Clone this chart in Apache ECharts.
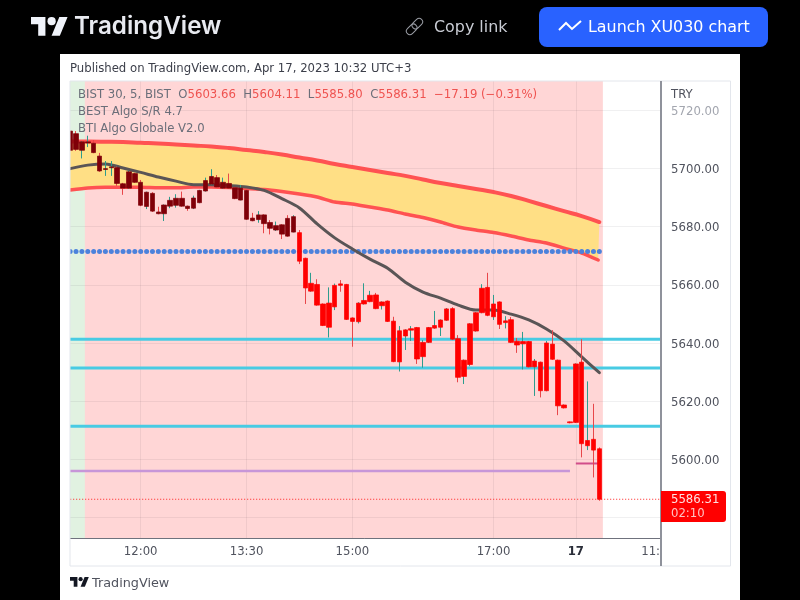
<!DOCTYPE html>
<html>
<head>
<meta charset="utf-8">
<script src="https://cdn.jsdelivr.net/npm/echarts@6/dist/echarts.min.js"></script>
<style>html,body{margin:0;padding:0;background:#000}#chart{width:800px;height:600px}</style>
</head>
<body>
<div id="chart"></div>
<script>
// ---------- Data ----------
const bodyTop = [
5712.8,5711.9,5709.1,5709.1,5708.6,5704.2,5699.9,5700.5,5700.2,5694.7,
5698.8,5698.2,5695.2,5691.8,5691.4,5685.0,5687.4,5689.0,5689.7,5689.7,
5687.0,5689.8,5692.4,5695.8,5697.2,5696.8,5695.2,5694.8,5693.3,5693.2,
5692.4,5682.9,5684.0,5684.0,5681.4,5680.3,5680.6,5682.8,5683.4,5677.9,
5669.1,5660.5,5660.1,5653.4,5653.7,5659.8,5660.3,5660.1,5648.6,5653.7,
5654.6,5656.4,5656.5,5654.1,5654.4,5647.5,5644.2,5644.5,5644.9,5645.3,
5640.2,5645.3,5646.0,5647.9,5651.7,5651.8,5641.5,5634.1,5646.6,5650.4,
5658.8,5659.1,5653.4,5654.1,5647.6,5648.0,5640.6,5640.5,5640.5,5633.8,
5633.4,5640.0,5639.6,5634.1,5618.7,5612.9,5632.8,5633.4,5606.5,5606.9,5603.66];
const bodyBottom = [
5706.2,5706.5,5706.2,5708.7,5705.4,5699.1,5699.6,5700.2,5694.8,5693.2,
5693.2,5695.2,5687.3,5686.9,5685.3,5684.4,5684.4,5687.0,5687.3,5687.0,
5686.2,5686.3,5688.2,5692.2,5694.6,5693.6,5693.2,5693.2,5689.6,5689.1,
5682.5,5682.0,5682.4,5681.0,5679.4,5678.8,5677.4,5676.7,5678.1,5668.1,
5658.9,5657.8,5653.0,5646.0,5645.4,5652.4,5659.8,5648.1,5647.4,5647.3,
5653.4,5654.2,5651.8,5652.8,5647.4,5633.6,5633.5,5642.4,5644.4,5634.5,
5635.3,5640.2,5645.1,5645.4,5647.8,5641.3,5628.2,5628.5,5632.6,5644.1,
5650.4,5649.5,5649.0,5646.4,5647.0,5640.2,5639.3,5639.7,5631.8,5631.8,
5623.6,5623.6,5634.4,5618.4,5617.7,5612.6,5612.7,5605.4,5604.7,5603.2,5586.31];
const wickHigh = [
5713.5,5712.8,5709.3,5711.2,5709.7,5705.3,5702.5,5702.5,5700.6,5695.0,
5699.2,5698.5,5696.0,5692.0,5691.8,5686.8,5687.6,5690.2,5691.1,5692.0,
5687.2,5690.6,5692.6,5696.8,5699.7,5697.7,5696.8,5698.2,5693.5,5694.3,
5692.6,5684.7,5685.3,5684.2,5682.2,5681.7,5680.8,5683.9,5683.9,5678.8,
5669.3,5664.1,5661.9,5653.6,5659.1,5660.4,5661.6,5660.3,5648.8,5654.0,
5660.5,5657.9,5657.2,5654.3,5654.6,5649.0,5645.8,5644.7,5645.8,5645.5,
5641.0,5645.5,5651.0,5648.1,5652.0,5652.3,5642.7,5634.3,5646.8,5650.6,
5660.2,5664.1,5656.5,5654.3,5649.2,5648.9,5641.7,5643.8,5640.7,5634.5,
5633.6,5640.7,5644.4,5634.3,5618.9,5613.0,5633.0,5641.3,5626.8,5619.1,5604.11];
const wickLow = [
5705.6,5706.0,5703.4,5707.3,5705.2,5698.8,5697.4,5697.4,5694.0,5690.9,
5693.0,5695.0,5687.0,5686.0,5685.0,5684.2,5681.9,5686.3,5686.5,5686.8,
5685.4,5686.0,5688.0,5692.0,5694.4,5693.4,5693.0,5693.0,5689.4,5689.0,
5682.3,5681.8,5681.3,5677.7,5677.3,5678.5,5675.7,5676.5,5678.0,5667.1,
5653.4,5657.6,5652.8,5645.8,5641.9,5651.3,5657.6,5647.9,5638.7,5646.7,
5653.2,5654.0,5651.6,5651.5,5647.2,5633.4,5630.2,5637.6,5640.7,5632.8,
5631.5,5640.0,5644.9,5642.4,5647.6,5641.0,5626.5,5625.9,5632.0,5643.9,
5650.2,5649.2,5647.9,5644.8,5645.0,5640.0,5636.6,5630.9,5631.6,5621.8,
5621.3,5623.4,5634.2,5615.2,5617.5,5612.4,5612.5,5600.7,5603.2,5593.8,5585.8];
const barDirection = [
'd','d','u','u','d','d','u','u','d','d','u','d','d','u','d','d','u','u','u','d',
'd','u','u','u','u','d','u','d','d','u','d','d','u','d','d','u','d','d','u','d',
'd','u','d','d','u','u','d','d','d','u','u','u','d','u','d','d','u','u','u','d',
'u','u','u','u','u','d','d','u','u','u','u','d','u','d','u','d','d','u','d','u',
'd','u','d','d','d','d','u','d','u','d','d'];
const darkBarCount = 39;

const lineBars = [0,3,6,9,12,15,18,21,24,27,30,33,36,39,42,45,48,51,54,57,60,63,66,69,72,75,78,81,84,87,90];
const lowerLineBars = [0,3,6,9,12,15,18,21,24,27,30,33,36,39,42,45,48,51,54,57,60,63,66,69,72,75,78,81,84,87,89.8];
const upperLine = [5709.2,5709.2,5709.15,5709.04,5708.77,5708.53,5708.18,5707.84,5707.5,5706.98,5706.3,5705.6,5704.75,5703.7,5702.7,5701.5,5700.45,5699.4,5698.4,5697.4,5696.15,5694.95,5693.9,5692.9,5691.85,5690.5,5688.8,5687.05,5685.3,5683.6,5681.55];
const lowerLine = [5692.55,5693.24,5693.48,5693.48,5693.48,5693.3,5693.3,5693.58,5693.58,5693.4,5693.06,5692.72,5692.03,5691.17,5690.14,5688.42,5687.74,5686.7,5685.67,5684.3,5683.1,5681.55,5679.83,5678.8,5677.94,5676.74,5675.37,5674.33,5672.6,5670.9,5668.5];
const meanLine = [5699.9,5701.1,5701.5,5700.1,5698.6,5697.0,5695.6,5694.4,5694.4,5694.1,5693.6,5692.4,5689.6,5686.4,5680.9,5676.1,5672.3,5668.8,5665.7,5660.9,5657.5,5655.4,5653.0,5651.3,5651.3,5649.9,5647.9,5644.8,5640.7,5635.2,5629.8];

const dotLevel = 5671.4;
const cyanLevels = [5641.3, 5631.4, 5611.4];
const purpleLevel = 5596.0, purpleEndBar = 85;
const magentaLevel = 5598.6, magentaBars = [86, 89.8];
const lastPrice = 5586.31;
const bandEdges = [-0.5, 2.5, 90.6];

const priceTicks = [5580,5600,5620,5640,5660,5680,5700,5720];
const priceLabels = [5600,5620,5640,5660,5680,5700,5720];
const timeTicks = {12:'12:00',30:'13:30',48:'15:00',72:'17:00',86:'17'};
const slotCount = 101;
const categories = Array.from({length:slotCount},(_,i)=>timeTicks[i]||'');

const FONT = '"DejaVu Sans"';
const FS = 11.7;
const TEXT = '#50535e';

// ---------- Candle data ----------
const wickData = bodyTop.map((t,i)=>{
  const b = bodyBottom[i];
  return barDirection[i]==='u' ? [b,t,wickLow[i],wickHigh[i]] : [t,b,wickLow[i],wickHigh[i]];
});
const bodyData = bodyTop.map((t,i)=>{
  const b = bodyBottom[i];
  const c = i<darkBarCount ? '#7f0008' : '#ff0000';
  return {
    value: barDirection[i]==='u' ? [b,t,b,t] : [t,b,b,t],
    itemStyle:{color:c,color0:c,borderColor:c,borderColor0:c,borderWidth:0.7}
  };
});

function hline(level,a,b,color,width,type,z){
  return {type:'line',xAxisIndex:1,yAxisIndex:0,data:[[a,level],[b,level]],symbol:'none',silent:true,z,
    lineStyle:{color,width,type:type||'solid'},emphasis:{disabled:true}};
}
function curve(xs,ys,color,width,z,smooth){
  return {type:'line',xAxisIndex:1,yAxisIndex:0,data:xs.map((x,i)=>[x,ys[i]]),symbol:'none',silent:true,z,smooth:smooth||0,
    lineStyle:{color,width,cap:'round',join:'round'},emphasis:{disabled:true}};
}

const series = [
  {type:'line',xAxisIndex:1,yAxisIndex:0,data:[],z:1,silent:true,
   markArea:{silent:true,z:1,data:[
     [{xAxis:bandEdges[0],itemStyle:{color:'rgba(76,175,80,0.17)'}},{xAxis:bandEdges[1]}],
     [{xAxis:bandEdges[1],itemStyle:{color:'rgba(255,0,0,0.16)'}},{xAxis:bandEdges[2]}]
   ]}},
  {type:'line',xAxisIndex:1,yAxisIndex:0,data:[],z:2,silent:true,
   markLine:{silent:true,z:2,symbol:'none',label:{show:false},animation:false,
     lineStyle:{color:'rgba(42,46,57,0.07)',width:1,type:'solid'},
     data:[...priceTicks.map(v=>({yAxis:v})),...Object.keys(timeTicks).map(k=>({xAxis:+k}))]}},
  {type:'custom',xAxisIndex:1,yAxisIndex:0,coordinateSystem:'cartesian2d',z:3,silent:true,data:[0],
   renderItem(params,api){
     const pts=[];
     lineBars.forEach((x,i)=>pts.push(api.coord([x,upperLine[i]])));
     for(let i=lowerLineBars.length-1;i>=0;i--)pts.push(api.coord([lowerLineBars[i],lowerLine[i]]));
     return {type:'polygon',shape:{points:pts},style:{fill:'#ffdf85'}};
   }},
  curve(lineBars,upperLine,'#ff5252',4,4,0.5),
  curve(lowerLineBars,lowerLine,'#ff5252',3.5,4,0.2),
  {type:'line',xAxisIndex:0,yAxisIndex:0,data:bodyTop.map(()=>dotLevel),z:4,silent:true,
   symbol:'circle',symbolSize:5,showSymbol:true,showAllSymbol:true,
   lineStyle:{width:0,opacity:0},itemStyle:{color:'#4c82dc'},emphasis:{disabled:true}},
  ...cyanLevels.map(v=>hline(v,-0.5,100.5,'#48cbe3',3,null,4)),
  hline(purpleLevel,-0.5,purpleEndBar,'#c796d8',2.5,null,4),
  hline(magentaLevel,magentaBars[0],magentaBars[1],'#d14d8a',2,null,4),
  hline(lastPrice,-0.5,100.5,'#ff2020',1,[1,2],4),
  curve(lineBars,meanLine,'#5a5556',3,5,0.3),
  {type:'candlestick',xAxisIndex:0,yAxisIndex:0,data:wickData,barWidth:1,z:6,silent:true,
   itemStyle:{color:'#2d9c8e',color0:'#e8474a',borderColor:'#2d9c8e',borderColor0:'#e8474a',borderWidth:1}},
  {type:'candlestick',xAxisIndex:0,yAxisIndex:0,data:bodyData,barWidth:5,z:7,silent:true}
];

// ---------- Chrome ----------
function txt(x,y,text,size,color,extra){
  return {type:'text',z:101,silent:true,x,y,style:Object.assign({text,fontFamily:FONT,fontSize:size,fill:color,align:'left',verticalAlign:'middle'},extra||{})};
}
function logo(x,y,s,color){
  return {type:'group',x,y,scaleX:s,scaleY:s,silent:true,children:[
    {type:'polygon',z:101,shape:{points:[[14,22],[7,22],[7,11],[0,11],[0,4],[14,4]]},style:{fill:color}},
    {type:'polygon',z:101,shape:{points:[[28,22],[20,22],[27.5,4],[35.5,4]]},style:{fill:color}},
    {type:'circle',z:101,shape:{cx:20,cy:8,r:4},style:{fill:color}}
  ]};
}
const V='#ef5350', L='#6b6e79';
const graphic = [
  {type:'rect',z:-10,silent:true,shape:{x:60,y:54,width:680,height:546},style:{fill:'#fff'}},
  {type:'rect',z:100,silent:true,shape:{x:60,y:78,width:10,height:470},style:{fill:'#fff'}},
  {type:'rect',z:100,silent:true,shape:{x:70,y:81,width:660.5,height:485},style:{fill:'none',stroke:'#e3e6ec',lineWidth:1}},
  {type:'rect',z:100,silent:true,shape:{x:660,y:81,width:2,height:485},style:{fill:'#8f929b'}},
  {type:'rect',z:100,silent:true,shape:{x:661,y:491,width:65,height:31,r:[0,3,3,0]},style:{fill:'#ff0000'}},
  txt(671,500,'5586.31',FS,'#ffe0e0'),
  txt(671,514,'02:10',FS,'#ffc0c0'),
  txt(671,94.5,'TRY',FS,TEXT),
  txt(660,552,'11:',FS,TEXT,{align:'right'}),
  txt(70,68.5,'Published on TradingView.com, Apr 17, 2023 10:32 UTC+3',FS,'#3c3f4a'),
  {type:'text',z:101,silent:true,x:78,y:95,style:{
    text:'{a|BIST 30, 5, BIST  O}{v|5603.66}{a|  H}{v|5604.11}{a|  L}{v|5585.80}{a|  C}{v|5586.31}{v|  −17.19 (−0.31%)}',
    verticalAlign:'middle',fontFamily:FONT,fontSize:FS,
    rich:{a:{fontFamily:FONT,fontSize:FS,fill:L},v:{fontFamily:FONT,fontSize:FS,fill:V}}}},
  txt(78,112,'BEST Algo S/R 4.7',FS,L),
  txt(78,128.5,'BTI Algo Globale V2.0',FS,L),
  logo(70,575,0.53,'#131722'),
  txt(92,583.5,'TradingView',12.8,TEXT),
  logo(31,13,1.03,'#f0f3fa'),
  txt(74,27,'TradingView',24.2,'#e8eaf0',{fontFamily:'Inter',fontWeight:600}),
  {type:'rect',z:101,silent:true,shape:{x:539,y:7,width:229,height:40,r:8},style:{fill:'#2962ff'}},
  {type:'polyline',z:102,silent:true,shape:{points:[[559,30],[566,23],[572,29],[581,21]]},style:{fill:'none',stroke:'#fff',lineWidth:2}},
  txt(588,27.5,'Launch XU030 chart',15.9,'#ffffff',{}),
  txt(434,27.5,'Copy link',15.9,'#c9ccd4',{}),
  {type:'group',x:414.5,y:26.5,rotation:-Math.PI/4,silent:true,children:[
    {type:'rect',z:101,shape:{x:-3.5,y:-10,width:7,height:12,r:3.5},style:{fill:'none',stroke:'#9a9da5',lineWidth:1}},
    {type:'rect',z:101,shape:{x:-3.5,y:-2,width:7,height:12,r:3.5},style:{fill:'none',stroke:'#9a9da5',lineWidth:1}}
  ]}
];

const chart = echarts.init(document.getElementById('chart'),null,{renderer:'canvas'});
chart.setOption({
  animation:false,
  backgroundColor:'#000',
  textStyle:{fontFamily:FONT},
  tooltip:{show:false},
  grid:{left:67.2,width:593.9,top:81,height:457,show:false},
  xAxis:[
    {type:'category',data:categories,boundaryGap:true,
     axisLine:{show:true,lineStyle:{color:'#6f727d',width:1}},axisTick:{show:false},splitLine:{show:false},
     axisLabel:{interval:0,margin:8,fontFamily:FONT,fontSize:FS,color:TEXT,hideOverlap:false,
       formatter:v=>v==='17'?'{b|17}':v,
       rich:{b:{fontFamily:FONT,fontSize:FS,fontWeight:'bold',color:'#2a2e39'}}}},
    {type:'value',min:-0.5,max:100.5,show:false,splitLine:{show:false}}
  ],
  yAxis:[{type:'value',min:5573,max:5730,position:'right',
    axisLine:{show:false},axisTick:{show:false},splitLine:{show:false},
    axisLabel:{show:true,margin:10,fontFamily:FONT,fontSize:FS,color:TEXT,padding:[3,0,0,0],
      customValues:priceLabels,
      formatter:v=>v===5720?'{f|5720.00}':v.toFixed(2),
      rich:{f:{fontFamily:FONT,fontSize:FS,color:'#a3a6af'}}}}],
  series,
  graphic:{elements:graphic}
});
</script>
</body>
</html>
